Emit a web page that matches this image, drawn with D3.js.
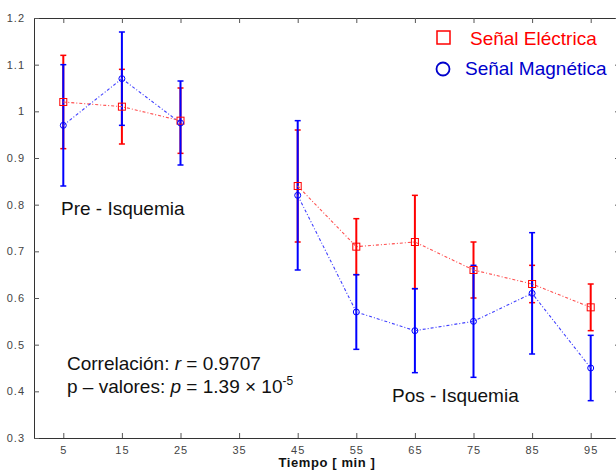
<!DOCTYPE html>
<html><head><meta charset="utf-8">
<script src="https://cdn.jsdelivr.net/npm/d3@7"></script>
<style>
html,body{margin:0;padding:0;background:#fff;}
svg{display:block;font-family:"Liberation Sans",Arial,sans-serif;}
</style></head>
<body><svg id="c" width="616" height="470"></svg>
<script>
// ---- data ----
const tiempo = [5, 15, 25, 45, 55, 65, 75, 85, 95];
const fase = ["pre","pre","pre","pos","pos","pos","pos","pos","pos"];
const electrica = [1.02, 1.01, 0.98, 0.84, 0.71, 0.72, 0.66, 0.63, 0.58];
const electricaErr = [0.10, 0.08, 0.07, 0.12, 0.06, 0.10, 0.06, 0.04, 0.05];
const magnetica = [0.97, 1.07, 0.975, 0.82, 0.57, 0.53, 0.55, 0.61, 0.45];
const magneticaErr = [0.13, 0.10, 0.09, 0.16, 0.08, 0.09, 0.12, 0.13, 0.07];
const xTicks = [5, 15, 25, 35, 45, 55, 65, 75, 85, 95];
const yTicks = [0.3, 0.4, 0.5, 0.6, 0.7, 0.8, 0.9, 1.0, 1.1, 1.2];
const seriesNames = ["Señal Eléctrica", "Señal Magnética"];

const svg = d3.select("#c");
const L = 34, R = 620, T = 18, B = 438;
const x = d3.scaleLinear().domain([0, 100]).range([L, R]);
const y = d3.scaleLinear().domain([0.3, 1.2]).range([B, T]);

// axes (box with inward ticks)
const tickFont = g => g.selectAll("text").attr("font-size", 11).attr("fill", "#444")
  .attr("letter-spacing", 1).attr("font-family", "Liberation Sans, Arial, sans-serif");
const fmt = d => String(+d.toFixed(1));

svg.append("g").attr("transform", `translate(0,${B})`)
  .call(d3.axisBottom(x).tickValues(xTicks).tickSizeInner(-5).tickSizeOuter(0).tickPadding(8).tickFormat(d3.format("d")))
  .call(tickFont)
  .call(g => g.select(".domain").attr("stroke", "#333"))
  .call(g => g.selectAll(".tick line").attr("stroke", "#555"));
svg.append("g").attr("transform", `translate(0,${T})`)
  .call(d3.axisTop(x).tickValues(xTicks).tickSizeInner(-5).tickSizeOuter(0).tickFormat(""))
  .call(g => g.select(".domain").attr("stroke", "#333"))
  .call(g => g.selectAll(".tick line").attr("stroke", "#555"));
svg.append("g").attr("transform", `translate(${L},0)`)
  .call(d3.axisLeft(y).tickValues(yTicks).tickSizeInner(-5).tickSizeOuter(0).tickPadding(9).tickFormat(fmt))
  .call(tickFont)
  .call(g => g.select(".domain").attr("stroke", "#333"))
  .call(g => g.selectAll(".tick line").attr("stroke", "#555"));
svg.append("g").attr("transform", `translate(${R},0)`)
  .call(d3.axisRight(y).tickValues(yTicks).tickSizeInner(-5).tickSizeOuter(0).tickFormat(""))
  .call(g => g.select(".domain").attr("stroke", "#333"))
  .call(g => g.selectAll(".tick line").attr("stroke", "#555"));

// x label
svg.append("text").attr("x", 327).attr("y", 467).attr("text-anchor", "middle")
  .attr("font-size", 13).attr("font-weight", "bold").attr("fill", "#111")
  .attr("letter-spacing", 0.6).text("Tiempo  [ min ]");

const series = [
  {vals: electrica, err: electricaErr, bar: "#ff0000", line: "#ff5050"},
  {vals: magnetica, err: magneticaErr, bar: "#0000ff", line: "#4040ff"}
];

// error bars
series.forEach(s => {
  const g = svg.append("g");
  tiempo.forEach((t, i) => {
    const cx = x(t), y1 = y(s.vals[i] + s.err[i]), y0 = y(s.vals[i] - s.err[i]);
    g.append("line").attr("x1", cx).attr("x2", cx).attr("y1", y1).attr("y2", y0)
      .attr("stroke", s.bar).attr("stroke-width", 2);
    [y1, y0].forEach(yy => g.append("line").attr("x1", cx - 3).attr("x2", cx + 3)
      .attr("y1", yy).attr("y2", yy).attr("stroke", s.bar).attr("stroke-width", 1.5));
  });
});

// mean lines (per phase)
const phases = Array.from(new Set(fase));
series.forEach(s => {
  phases.forEach(p => {
    const pts = tiempo.map((t, i) => [t, s.vals[i], fase[i]]).filter(d => d[2] === p);
    svg.append("path").datum(pts)
      .attr("d", d3.line().x(d => x(d[0])).y(d => y(d[1])))
      .attr("fill", "none").attr("stroke", s.line).attr("stroke-width", 1.1)
      .attr("stroke-dasharray", "3,2,1,2");
  });
});

// markers
svg.append("g").selectAll("rect").data(tiempo).join("rect")
  .attr("x", (t) => x(t) - 3.5).attr("y", (t, i) => y(electrica[i]) - 3.5)
  .attr("width", 7).attr("height", 7).attr("fill", "none").attr("stroke", "#ff0000").attr("stroke-width", 1);
svg.append("g").selectAll("circle").data(tiempo).join("circle")
  .attr("cx", (t) => x(t)).attr("cy", (t, i) => y(magnetica[i]))
  .attr("r", 3).attr("fill", "none").attr("stroke", "#0000ff").attr("stroke-width", 1);

// legend
svg.append("rect").attr("x", 437).attr("y", 31).attr("width", 13).attr("height", 13)
  .attr("fill", "none").attr("stroke", "#ff0000").attr("stroke-width", 1.5);
svg.append("text").attr("x", 470).attr("y", 45).attr("font-size", 19).attr("fill", "#ff0000").text(seriesNames[0]);
svg.append("circle").attr("cx", 443).attr("cy", 69).attr("r", 6.5)
  .attr("fill", "none").attr("stroke", "#0000cc").attr("stroke-width", 1.8);
svg.append("text").attr("x", 465).attr("y", 75).attr("font-size", 19).attr("fill", "#0000cc").text(seriesNames[1]);

// annotations
svg.append("text").attr("x", 61).attr("y", 215).attr("font-size", 19).attr("fill", "#111").text("Pre - Isquemia");
svg.append("text").attr("x", 392).attr("y", 402).attr("font-size", 19).attr("fill", "#111").text("Pos - Isquemia");

const t1 = svg.append("text").attr("x", 67).attr("y", 370).attr("font-size", 19).attr("fill", "#111");
t1.append("tspan").text("Correlación: ");
t1.append("tspan").attr("font-style", "italic").text("r");
t1.append("tspan").text(" = 0.9707");
const t2 = svg.append("text").attr("x", 67).attr("y", 393).attr("font-size", 19).attr("fill", "#111");
t2.append("tspan").text("p – valores: ");
t2.append("tspan").attr("font-style", "italic").text("p");
t2.append("tspan").text(" = 1.39 × 10");
t2.append("tspan").attr("font-size", 12).attr("dy", -8).text("-5");
</script></body></html>
